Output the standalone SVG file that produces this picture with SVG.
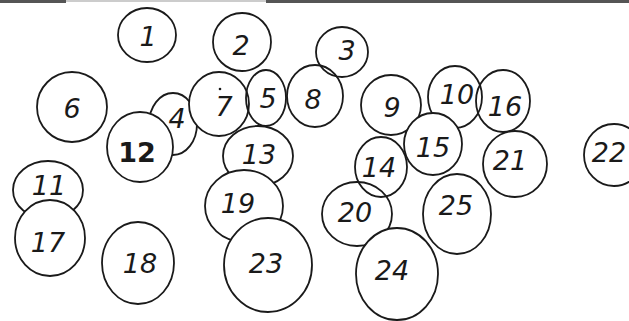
<svg xmlns="http://www.w3.org/2000/svg" width="629" height="321" viewBox="0 0 629 321">
<style>
.c{fill:#fff;stroke:#1a1a1a;stroke-width:1.8}
.t{font-family:"DejaVu Sans","Liberation Sans",sans-serif;font-size:27px;fill:#1a1a1a;text-anchor:middle;dominant-baseline:central;font-style:italic}
.b{font-weight:bold;font-style:normal}
</style>
<rect width="629" height="321" fill="#fff"/>
<rect x="0" y="0" width="66" height="3" fill="#555"/>
<rect x="66" y="0" width="200" height="2" fill="#ccc"/>
<rect x="266" y="0" width="363" height="3" fill="#555"/>
<g id="connectors"></g>
<g id="n1"><ellipse class="c" cx="147" cy="35" rx="29" ry="27"/><text class="t" x="148" y="36">1</text></g>
<g id="n2"><ellipse class="c" cx="242" cy="42" rx="29" ry="29"/><text class="t" x="241" y="45">2</text></g>
<g id="n6"><ellipse class="c" cx="72" cy="107" rx="35" ry="35"/><text class="t" x="72" y="108">6</text></g>
<g id="n4"><ellipse class="c" cx="173" cy="124" rx="24" ry="31"/><text class="t" x="177" y="118">4</text></g>
<g id="n8"><ellipse class="c" cx="315" cy="96" rx="28" ry="31"/><text class="t" x="313" y="99">8</text></g>
<g id="n3"><ellipse class="c" cx="342" cy="52" rx="26" ry="25" fill-opacity="0"/><text class="t" x="347" y="50">3</text></g>
<g id="n7"><ellipse class="c" cx="219" cy="104" rx="30" ry="32"/><text class="t" x="224" y="106">7</text><circle cx="220" cy="89" r="1.3" fill="#1a1a1a"/></g>
<g id="n5"><ellipse class="c" cx="266" cy="98" rx="20" ry="28" fill-opacity="0"/><text class="t" x="268" y="98">5</text></g>
<g id="n12"><ellipse class="c" cx="140" cy="147" rx="33" ry="35"/><text class="t b" x="137" y="152">12</text></g>
<g id="n13"><ellipse class="c" cx="258" cy="156" rx="35" ry="30"/><text class="t" x="259" y="154">13</text></g>
<g id="n9"><ellipse class="c" cx="391" cy="105" rx="30" ry="30"/><text class="t" x="392" y="107">9</text></g>
<g id="n10"><ellipse class="c" cx="455" cy="97" rx="27" ry="31"/><text class="t" x="457" y="94">10</text></g>
<g id="n16"><ellipse class="c" cx="503" cy="101" rx="27" ry="31" fill-opacity="0"/><text class="t" x="505" y="106">16</text></g>
<g id="n15"><ellipse class="c" cx="433" cy="144" rx="29" ry="31"/><text class="t" x="433" y="147">15</text></g>
<g id="n21"><ellipse class="c" cx="515" cy="164" rx="32" ry="33"/><text class="t" x="510" y="160">21</text></g>
<g id="n22"><ellipse class="c" cx="614" cy="155" rx="30" ry="31"/><text class="t" x="609" y="152">22</text></g>
<g id="n20"><ellipse class="c" cx="357" cy="214" rx="35" ry="32"/><text class="t" x="355" y="212">20</text></g>
<g id="n14"><ellipse class="c" cx="381" cy="167" rx="26" ry="30" fill-opacity="0"/><text class="t" x="379" y="167">14</text></g>
<g id="n25"><ellipse class="c" cx="457" cy="214" rx="34" ry="40"/><text class="t" x="456" y="205">25</text></g>
<g id="n24"><ellipse class="c" cx="397" cy="274" rx="41" ry="46"/><text class="t" x="392" y="270">24</text></g>
<g id="n11"><ellipse class="c" cx="48" cy="190" rx="35" ry="29"/><text class="t" x="49" y="185">11</text></g>
<g id="n17"><ellipse class="c" cx="50" cy="238" rx="35" ry="38"/><text class="t" x="48" y="242">17</text></g>
<g id="n18"><ellipse class="c" cx="138" cy="263" rx="36" ry="41"/><text class="t" x="140" y="263">18</text></g>
<g id="n19"><ellipse class="c" cx="244" cy="206" rx="39" ry="36"/><text class="t" x="238" y="203">19</text></g>
<g id="n23"><ellipse class="c" cx="268" cy="265" rx="44" ry="47"/><text class="t" x="266" y="263">23</text></g>
</svg>
